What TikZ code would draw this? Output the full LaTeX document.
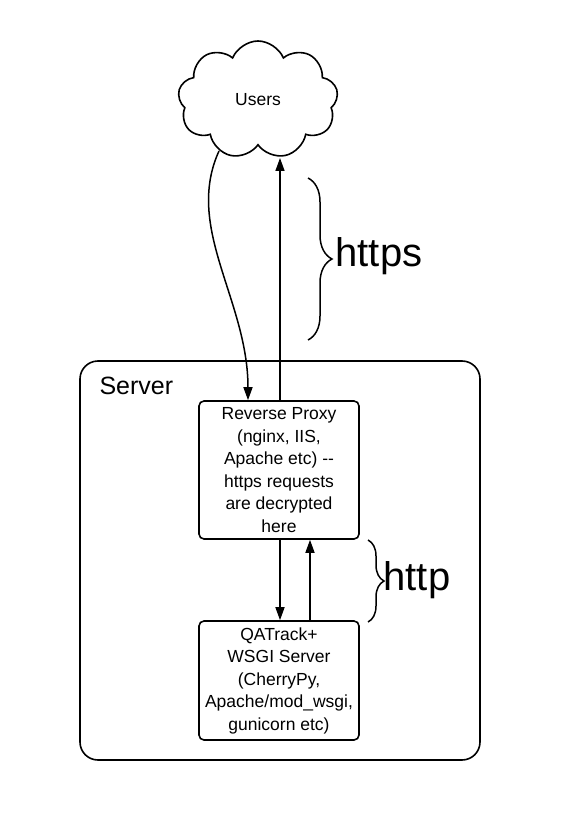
\documentclass[tikz,border=0pt]{standalone}
\usepackage{fontspec}
\setmainfont{Liberation Sans}
\usetikzlibrary{calc, shapes, shapes.symbols, arrows.meta, decorations.pathreplacing}

\tikzset{
  box/.style={draw, line width=1.6pt, rounded corners=5pt, minimum width=160pt, align=center,
    font=\fontsize{17.5}{22.5}\selectfont},
  flow/.style={line width=1.5pt, -{Triangle[length=13pt, width=9pt]}},
  bigbrace/.style={decorate, decoration={brace, amplitude=#1}, line width=1.5pt},
  biglabel/.style={anchor=west, font=\fontsize{40}{44}\selectfont}
}

\begin{document}
\begin{tikzpicture}[x=1pt, y=-1pt]
    \useasboundingbox (0,0) rectangle (578,826);

    \node[draw, rounded corners=18pt, line width=1.6pt, minimum width=400pt, minimum height=399pt] (server) at (280,560.5) {};
    \node[anchor=west, font=\fontsize{25}{28}\selectfont] (servername) at (96,386) {Server};

    \node[cloud, draw, line width=1.6pt, cloud puffs=9, cloud puff arc=135, aspect=1.4,
          minimum width=160pt, minimum height=118pt, inner sep=0pt,
          font=\fontsize{17.5}{20}\selectfont] (users) at (258,100) {Users};

    \node[box, minimum height=138pt] (proxy) at (279,470) {Reverse Proxy\\(nginx, IIS,\\Apache etc) -{}-\\https requests\\are decrypted\\here};
    \node[box, minimum height=119pt] (wsgi) at (279,680.5) {QATrack+\\WSGI Server\\(CherryPy,\\Apache/mod\_wsgi,\\gunicorn etc)};

    \coordinate (usersout) at (219,151);
    \coordinate (usersin) at (280,158);
    \coordinate (proxyin) at ($ (proxy.north) + (-31,0) $);
    \coordinate (proxyout) at ($ (proxy.north) + (1,0) $);

    \draw[flow] (usersout) .. controls (184,228) and (248,300) .. (proxyin);
    \draw[flow] (proxyout) -- (usersin);

    \draw[flow] ($ (proxy.south) + (1,0) $) -- ($ (wsgi.north) + (1,0) $);
    \draw[flow] ($ (wsgi.north) + (31,0) $) -- ($ (proxy.south) + (31,0) $);

    \coordinate (httpstop) at (308,178);
    \coordinate (httpsbot) at (308,340);
    \draw[bigbrace=24pt] (httpstop) -- (httpsbot);
    \node[biglabel] (https) at (332,256) {https};

    \coordinate (httptop) at (368,540);
    \coordinate (httpbot) at (368,622);
    \draw[bigbrace=16pt] (httptop) -- (httpbot);
    \node[biglabel] (http) at (380,580) {http};

  \end{tikzpicture}
\end{document}
